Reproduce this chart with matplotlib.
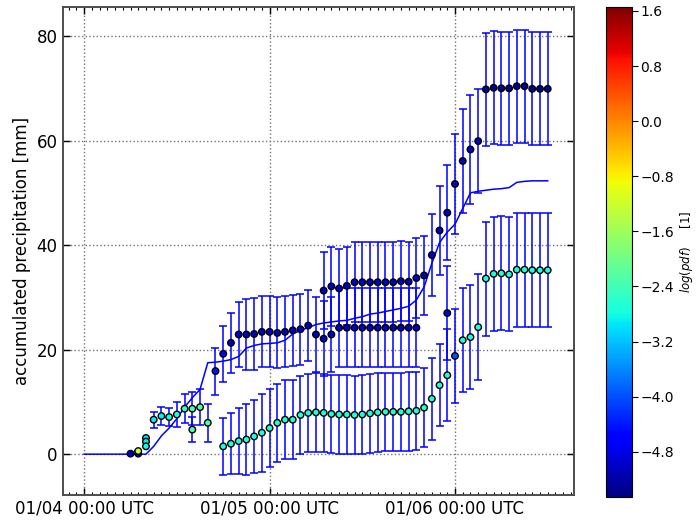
import matplotlib
matplotlib.use('Agg')
import matplotlib.pyplot as plt
import matplotlib.dates as mdates
from datetime import datetime, timedelta

BASE = datetime(2000, 1, 4)

# observed accumulated precipitation (hourly)
obs_hours = list(range(0, 61))
obs_values = [0, 0, 0, 0, 0, 0, 0, 0, 0, 1.5, 3.5, 5.0, 6.8, 9.0, 10.8, 12.4,
              17.5, 17.6, 17.8, 18.1, 18.7, 20.3, 20.8, 21.1, 21.2, 21.3, 21.8,
              23.0, 23.7, 24.2, 24.8, 25.1, 25.3, 25.5, 25.6, 26.0, 26.3, 26.8,
              27.0, 27.3, 27.6, 27.9, 28.3, 29.5, 32.0, 36.5, 40.5, 42.5, 44.0,
              47.0, 50.0, 50.3, 50.5, 50.7, 50.8, 51.0, 52.0, 52.2, 52.3, 52.3, 52.3]

# early forecast points
early_hours = [6, 7, 7, 8, 8, 8, 9, 10, 11, 12, 13, 14, 14, 15, 16]
early_values = [0.1, 0.1, 0.6, 3.1, 2.4, 1.5, 6.6, 7.3, 7.1, 7.6, 8.7, 8.7, 4.7, 9.0, 6.0]
early_err = [0, 0, 0, 0, 0, 0, 1.5, 1.8, 1.7, 2.4, 2.8, 3.2, 2.4, 3.5, 3.6]
early_logpdf = [-5.0, -5.0, -1.2, -3.0, -2.9, -2.8, -2.9, -2.9, -2.8, -2.7, -2.5, -2.4, -2.3, -2.3, -2.3]

# mode around 23 mm
modeA_hours = list(range(17, 44))
modeA_values = [15.9, 19.2, 21.3, 22.9, 22.9, 23.0, 23.4, 23.4, 23.2, 23.4, 23.7, 23.9,
                24.6, 22.9, 22.1, 22.9, 24.2, 24.2, 24.2, 24.2, 24.2, 24.2, 24.2,
                24.2, 24.2, 24.2, 24.2]
modeA_err = [4.5, 5.4, 5.7, 6.2, 6.8, 6.8, 6.8, 6.8, 6.8, 6.8, 6.8, 6.8, 6.8,
             7.2, 7.2, 7.2, 7.6, 7.6, 7.6, 7.6, 7.6, 7.6, 7.6, 7.6, 7.6, 7.6, 7.6]
modeA_logpdf = [-4.4, -4.6] + [-5.0] * 25

# mode around 33 mm
modeB_hours = list(range(31, 45))
modeB_values = [31.3, 32.1, 31.7, 32.2, 32.9, 32.9, 32.9, 32.9, 32.9, 32.9, 33.1, 33.0, 33.7, 34.2]
modeB_err = [7.3, 7.5, 7.5, 7.5, 7.6, 7.6, 7.6, 7.6, 7.6, 7.6, 7.6, 7.6, 7.6, 7.6]
modeB_logpdf = [-5.0] * 14

# late upper mode
modeC_hours = list(range(45, 61)) + [47]
modeC_values = [38.1, 42.8, 46.2, 51.7, 56.1, 58.3, 59.9, 69.8, 70.1, 70.0, 70.0, 70.4,
                70.4, 69.9, 69.9, 69.9, 27.0]
modeC_err = [7.8, 8.5, 9.1, 9.5, 9.9, 10.4, 10.0, 10.8, 10.8, 10.8, 10.8, 10.8,
             10.8, 10.8, 10.8, 10.8, 9.0]
modeC_logpdf = [-5.0] * 7 + [-5.3] * 9 + [-4.8]

# lower mode
modeD_hours = list(range(18, 61))
modeD_values = [1.5, 2.0, 2.5, 2.8, 3.4, 4.1, 5.0, 6.0, 6.6, 6.6, 7.5, 7.9, 8.0, 7.9,
                7.7, 7.6, 7.6, 7.5, 7.6, 7.8, 8.0, 8.1, 8.1, 8.1, 8.2, 8.3, 8.9, 10.6,
                13.2, 15.1, 18.8, 21.8, 22.4, 24.3, 33.6, 34.5, 34.6, 34.4, 35.3, 35.3,
                35.2, 35.2, 35.2]
modeD_err = [5.4, 5.8, 6.3, 6.8, 7.0] + [7.5] * 22 + [7.8, 7.8, 8.8, 9.0, 9.9, 10.0, 10.2] + [10.9] * 9
modeD_logpdf = [-2.7] * 30 + [-4.0] + [-2.7] * 12

VMIN, VMAX = -5.45, 1.66


def to_dates(hours):
    return mdates.date2num([BASE + timedelta(hours=h) for h in hours])


fig = plt.figure(figsize=(6.97, 5.21), dpi=100)
ax = fig.add_axes([0.0897, 0.050, 0.7338, 0.937])
cax = fig.add_axes([0.8694, 0.047, 0.0373, 0.940])

ax.plot(to_dates(obs_hours), obs_values, color='b', lw=1.1, zorder=2)

groups = [
    (early_hours, early_values, early_err, early_logpdf),
    (modeA_hours, modeA_values, modeA_err, modeA_logpdf),
    (modeB_hours, modeB_values, modeB_err, modeB_logpdf),
    (modeC_hours, modeC_values, modeC_err, modeC_logpdf),
    (modeD_hours, modeD_values, modeD_err, modeD_logpdf),
]
sc = None
for hrs, vals, errs, lp in groups:
    t = to_dates(hrs)
    ax.errorbar(t, vals, yerr=errs, fmt='none', ecolor='b', elinewidth=1.1,
                capsize=3, capthick=1.1, zorder=2)
    sc = ax.scatter(t, vals, c=lp, cmap='jet', vmin=VMIN, vmax=VMAX, s=22,
                    edgecolors='k', linewidths=1.0, zorder=3)

ax.set_xlim(to_dates([-2.8])[0], to_dates([63.4])[0])
ax.set_ylim(-7.8, 85.6)
ax.set_yticks([0, 20, 40, 60, 80])
ax.xaxis.set_major_locator(mdates.DayLocator())
ax.xaxis.set_minor_locator(mdates.HourLocator())
ax.xaxis.set_major_formatter(mdates.DateFormatter('%m/%d %H:%M UTC'))
ax.tick_params(which='both', direction='in', top=True, right=True, labelsize=12)
ax.tick_params(which='major', length=5, width=1)
ax.tick_params(which='minor', length=2.5, width=0.8)
ax.grid(True, which='major', color='0.45', linestyle=':', linewidth=1.0)
ax.set_ylabel('accumulated precipitation [mm]', fontsize=12)
for s in ax.spines.values():
    s.set_linewidth(1.4)
    s.set_color('0.3')

cb = fig.colorbar(sc, cax=cax)
cb.set_ticks([1.6, 0.8, 0.0, -0.8, -1.6, -2.4, -3.2, -4.0, -4.8])
cb.ax.tick_params(labelsize=10, length=4, pad=2)
cb.set_label(r'$log(pdf)$     [1]', fontsize=8.5, labelpad=3)

fig.savefig('out.png', dpi=100)
